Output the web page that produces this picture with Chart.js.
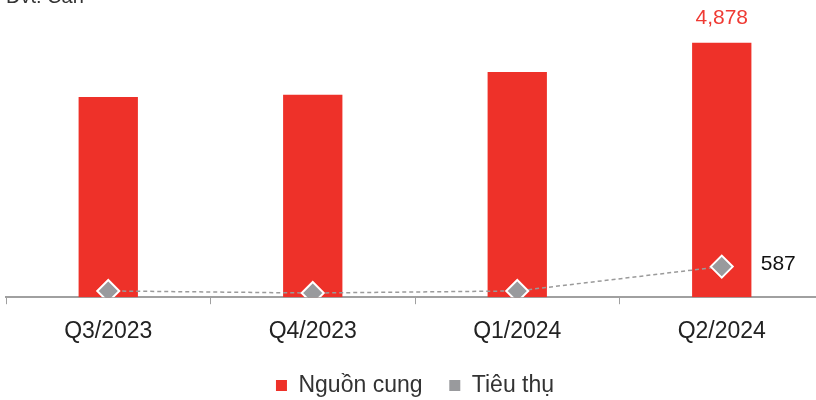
<!DOCTYPE html>
<html>
<head>
<meta charset="utf-8">
<script src="https://cdn.jsdelivr.net/npm/chart.js@4"></script>
<style>
  html, body { margin: 0; padding: 0; background: #fff; overflow: hidden; }
  #wrap { position: relative; width: 830px; height: 400px; }
  #unit { position: absolute; left: 6px; top: -15px; font: 20px "Liberation Sans", Arial, sans-serif; color: #333; }
</style>
</head>
<body>
<div id="wrap">
  <canvas id="chart" width="830" height="400"></canvas>
  <div id="unit">Đvt: Căn</div>
</div>
<script>
// quarters on the x axis
const quarters = ['Q3/2023', 'Q4/2023', 'Q1/2024', 'Q2/2024'];
// supply (bars) and absorption (line), units
const supply = [3840, 3880, 4320, 4878];
const sold = [120, 80, 120, 587];

const fontName = '"Liberation Sans", Arial, sans-serif';
const legendColors = ['#ee3129', '#999a9d'];

// labels only on the last quarter, like the source
const lastLabels = {
  id: 'lastLabels',
  afterDatasetsDraw(chart) {
    const ctx = chart.ctx;
    const last = quarters.length - 1;
    const bar = chart.getDatasetMeta(0).data[last];
    const pt = chart.getDatasetMeta(1).data[last];
    ctx.save();
    ctx.font = '21px ' + fontName;
    ctx.textAlign = 'center';
    ctx.textBaseline = 'bottom';
    ctx.fillStyle = '#ef3a33';
    ctx.fillText(supply[last].toLocaleString('en-US'), bar.x, bar.y - 14);
    ctx.textAlign = 'left';
    ctx.textBaseline = 'middle';
    ctx.fillStyle = '#111';
    ctx.fillText(String(sold[last]), pt.x + 39, pt.y - 2);
    ctx.restore();
  }
};

new Chart(document.getElementById('chart'), {
  data: {
    labels: quarters,
    datasets: [
      {
        type: 'bar',
        label: 'Nguồn cung',
        data: supply,
        backgroundColor: '#ee3129',
        barPercentage: 0.58,
        categoryPercentage: 0.5,
        order: 2
      },
      {
        type: 'line',
        label: 'Tiêu thụ',
        data: sold,
        borderColor: '#9a9a9a',
        borderWidth: 1.5,
        borderDash: [4, 3],
        backgroundColor: '#999a9d',
        pointStyle: 'rectRot',
        pointRadius: 11,
        pointBorderColor: '#fff',
        pointBorderWidth: 2,
        order: 1
      }
    ]
  },
  options: {
    responsive: false,
    animation: false,
    layout: { autoPadding: false, padding: { left: 6, right: 6, top: 13, bottom: -7 } },
    scales: {
      x: {
        offset: true,
        grid: { offset: true, drawOnChartArea: false, color: '#a0a0a0', tickLength: 7, lineWidth: 1 },
        border: { color: '#a0a0a0', width: 2 },
        ticks: { color: '#222', font: { family: fontName, size: 23, lineHeight: 0.6 }, padding: 21, maxRotation: 0 }
      },
      y: { display: false, min: 0, max: 5450 }
    },
    plugins: {
      legend: {
        position: 'bottom',
        labels: {
          color: '#333',
          font: { family: fontName, size: 23 },
          boxWidth: 11,
          boxHeight: 11,
          padding: 14,
          generateLabels(chart) {
            return chart.data.datasets.map((ds, i) => ({
              text: i === 0 ? ds.label + '  ' : ds.label,
              fillStyle: legendColors[i],
              strokeStyle: legendColors[i],
              lineWidth: 0,
              fontColor: '#333',
              datasetIndex: i,
              hidden: false
            }));
          }
        }
      },
      tooltip: { enabled: false }
    }
  },
  plugins: [lastLabels]
});
</script>
</body>
</html>
